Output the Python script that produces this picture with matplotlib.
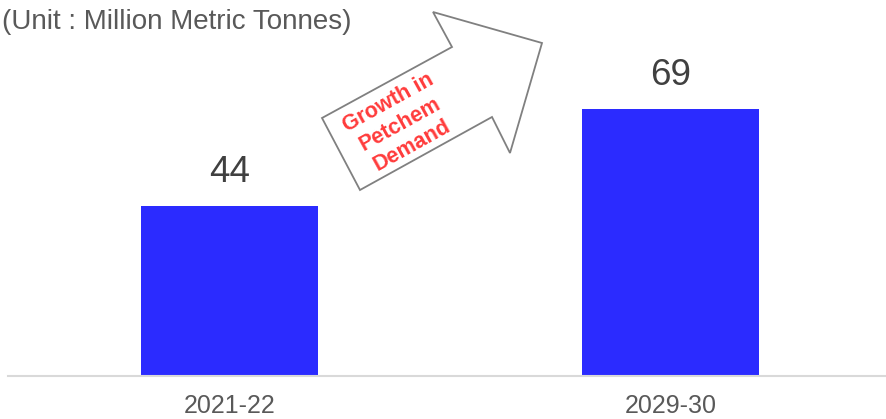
import matplotlib
matplotlib.use("Agg")
import matplotlib.pyplot as plt
from matplotlib.patches import Polygon

plt.rcParams['font.family'] = ['Liberation Sans', 'DejaVu Sans']

categories = ["2021-22", "2029-30"]
values = [44, 69]
title_text = "(Unit : Million Metric Tonnes)"
arrow_text = "Growth in\nPetchem\nDemand"

W, H = 886, 419
fig = plt.figure(figsize=(W / 100, H / 100), dpi=100)

ax = fig.add_axes([8 / W, 43 / H, 878 / W, 376 / H])
x = list(range(len(categories)))
ax.bar(x, values, width=0.401, color="#2b2bff", zorder=2)
ax.set_xlim(-0.502, 1.489)
ax.set_ylim(0, 97.3)
ax.set_xticks(x)
ax.set_xticklabels(categories, fontsize=18, color="#595959")
ax.tick_params(axis="x", length=0, pad=13)
ax.set_yticks([])
for s in ["left", "right", "top"]:
    ax.spines[s].set_visible(False)
ax.spines["bottom"].set_color("#d9d9d9")
ax.spines["bottom"].set_linewidth(1.5)

for xi, v in zip(x, values):
    ax.annotate(str(v), (xi, v), xytext=(0, 17.3), textcoords="offset points",
                ha="center", va="baseline", fontsize=26.5, color="#404040")

# title (partly cut at left edge as in reference)
fig.text(352 / W, (H - 29) / H, title_text, ha="right", va="baseline",
         fontsize=20, color="#595959")

# decorative arrow
pts_px = [(322, 118), (360, 190), (492, 117), (510, 153), (542, 43), (433, 12), (452, 47)]
pts = [(px / W, (H - py) / H) for px, py in pts_px]
arrow = Polygon(pts, closed=True, facecolor="white", edgecolor="#808080",
                linewidth=1.3, transform=fig.transFigure, zorder=3)
fig.patches.append(arrow)

fig.text(400 / W, (H - 124) / H, arrow_text, ha="center", va="center",
         rotation=29, rotation_mode="anchor", fontsize=15.5, fontweight="bold",
         color="#ff3b3b", linespacing=1.2, zorder=4, multialignment="center")

fig.savefig("out.png", dpi=100)
